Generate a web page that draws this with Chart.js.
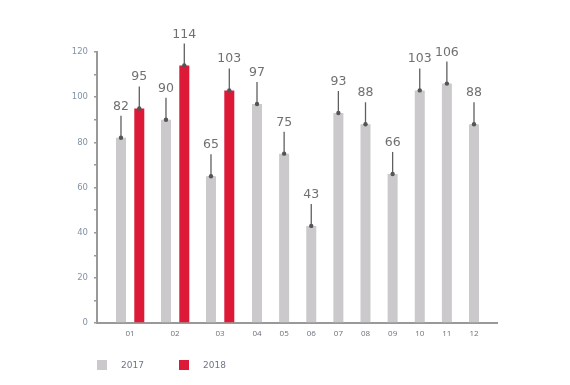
<!DOCTYPE html>
<html>
<head>
<meta charset="utf-8">
<script src="https://cdn.jsdelivr.net/npm/chart.js@4"></script>
<style>
  body { margin: 0; background: #fff; }
  #wrap { position: relative; width: 570px; height: 385px; }
  #legend { position: absolute; left: 97px; top: 360px; font: 9px 'DejaVu Sans', sans-serif; color: #6f7584; }
  #legend span.item { display: inline-block; width: 82px; white-space: nowrap; }
  #legend span.box { display: inline-block; width: 10px; height: 10px; margin-right: 14px; vertical-align: -2px; }
</style>
</head>
<body>
<div id="wrap">
  <canvas id="chart" width="570" height="385"></canvas>
  <div id="legend"></div>
</div>
<script>
// months 01-03 have both years, 04-12 only 2017
const months = ['01', '02', '03', '04', '05', '06', '07', '08', '09', '10', '11', '12'];
const values2017 = [82, 90, 65, 97, 75, 43, 93, 88, 66, 103, 106, 88];
const values2018 = [95, 114, 103];
const yTicks = [0, 20, 40, 60, 80, 100, 120];

const GREY = '#cbc9cb';
const RED = '#dc1a37';

const points = (vals, from) => vals.map((v, i) => ({ x: from + i + 1, y: v }));

// value label with a pin line above every bar
const pinLabels = {
  id: 'pinLabels',
  afterDatasetsDraw(chart) {
    const ctx = chart.ctx;
    ctx.save();
    chart.data.datasets.forEach((ds, di) => {
      const meta = chart.getDatasetMeta(di);
      meta.data.forEach((bar, i) => {
        const top = bar.y - 22;
        ctx.strokeStyle = '#5f5f5f';
        ctx.lineWidth = 1.3;
        ctx.beginPath();
        ctx.moveTo(bar.x, bar.y);
        ctx.lineTo(bar.x, top);
        ctx.stroke();
        ctx.fillStyle = '#555';
        ctx.beginPath();
        ctx.arc(bar.x, bar.y, 2.2, 0, Math.PI * 2);
        ctx.fill();
        ctx.fillStyle = '#707070';
        ctx.font = '12.5px "DejaVu Sans", sans-serif';
        ctx.textAlign = 'center';
        ctx.textBaseline = 'bottom';
        ctx.fillText(ds.data[i].y, bar.x, top - 3);
      });
    });
    ctx.restore();
  }
};

// full-width x scales pinned at y=0; 01-03 use a wide month step, 04-12 a narrow one,
// and the two years of 01-03 sit on scales shifted left/right of the label scale
const xAxis = (min, max, from, to, opts = {}) => ({
  type: 'linear',
  axis: 'x',
  position: { y: 0 },
  offset: false,
  display: opts.display !== false,
  min: min,
  max: max,
  afterBuildTicks: s => { s.ticks = months.slice(from, to).map((m, i) => ({ value: from + i + 1 })); },
  grid: { display: false, drawTicks: false },
  border: { display: !!opts.border, color: '#999', width: 2 },
  ticks: {
    padding: 6,
    autoSkip: false,
    maxRotation: 0,
    color: '#6b6f78',
    font: { family: 'Open Sans', size: 8 },
    callback: v => months[v - 1]
  }
});

const chart = new Chart(document.getElementById('chart'), {
  type: 'bar',
  data: {
    datasets: [
      { label: '2017', data: points(values2017.slice(0, 3), 0), backgroundColor: GREY, xAxisID: 'xa' },
      { label: '2018', data: points(values2018, 0), backgroundColor: RED, xAxisID: 'xb' },
      { label: '2017', data: points(values2017.slice(3), 3), backgroundColor: GREY, xAxisID: 'x2' }
    ]
  },
  options: {
    responsive: false,
    animation: false,
    layout: { padding: { top: 52, right: 73, bottom: 62, left: 55 } },
    datasets: { bar: { grouped: false, categoryPercentage: 0.8, barPercentage: 0.9, maxBarThickness: 10 } },
    scales: {
      x1: xAxis(0.267, 9.156, 0, 3),
      xa: xAxis(0.467, 9.356, 0, 3, { display: false }),
      xb: xAxis(0.060, 8.949, 0, 3, { display: false }),
      x2: xAxis(-1.899, 12.848, 3, 12, { border: true }),
      y: {
        min: 0,
        max: 120,
        afterFit: s => { s.width = 42; },
        afterBuildTicks: s => {
          s.ticks = [];
          for (let v = 0; v <= 120; v += 10) s.ticks.push({ value: v });
        },
        grid: { drawOnChartArea: false, tickLength: 3, color: '#999', lineWidth: 1.5 },
        border: { color: '#999', width: 2 },
        ticks: {
          padding: 6,
          color: '#8392a8',
          font: { family: 'DejaVu Sans', size: 8.5 },
          callback: v => (yTicks.includes(v) ? String(v) : '')
        }
      }
    },
    plugins: {
      legend: { display: false },
      tooltip: { enabled: false }
    }
  },
  plugins: [pinLabels]
});

// html legend, one entry per year
const legendItems = [['2017', GREY], ['2018', RED]];
document.getElementById('legend').innerHTML = legendItems
  .map(([t, c]) => `<span class="item"><span class="box" style="background:${c}"></span>${t}</span>`)
  .join('');
</script>
</body>
</html>
